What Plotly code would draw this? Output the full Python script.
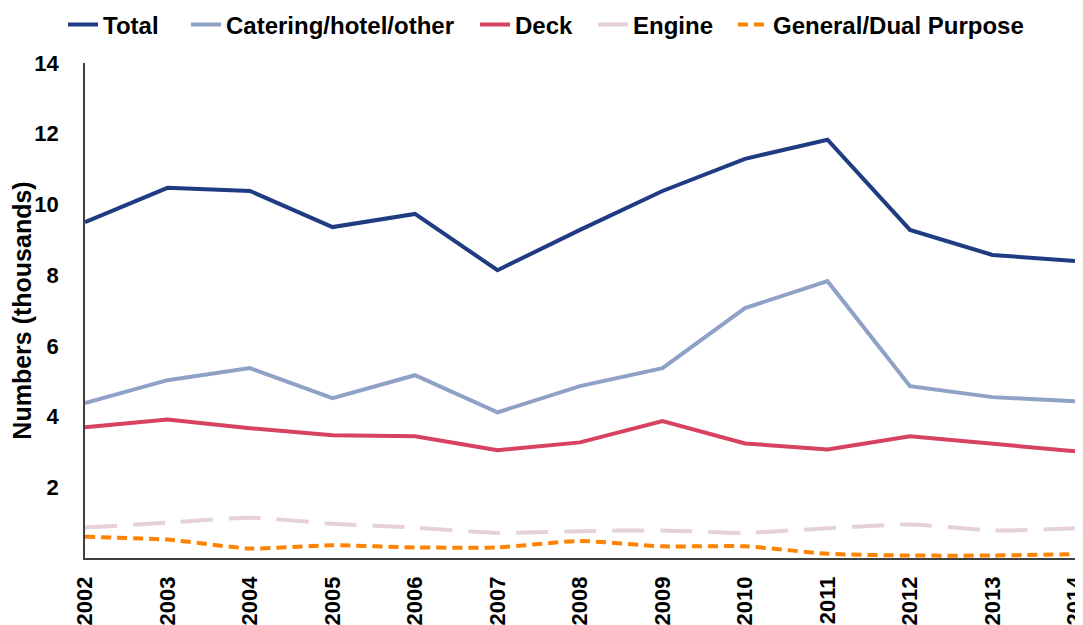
import plotly.graph_objects as go

years = list(range(2002, 2015))
total = [9.50, 10.47, 10.38, 9.36, 9.73, 8.14, 9.28, 10.38, 11.29, 11.83, 9.28, 8.57, 8.40]
catering = [4.38, 5.03, 5.37, 4.52, 5.17, 4.12, 4.86, 5.37, 7.07, 7.83, 4.86, 4.55, 4.43]
deck = [3.70, 3.92, 3.67, 3.47, 3.44, 3.05, 3.27, 3.87, 3.24, 3.07, 3.44, 3.22, 3.02]
engine = [0.86, 1.00, 1.14, 0.97, 0.86, 0.71, 0.76, 0.78, 0.71, 0.84, 0.95, 0.78, 0.84]
general = [0.60, 0.52, 0.27, 0.36, 0.30, 0.30, 0.48, 0.33, 0.33, 0.12, 0.07, 0.07, 0.11]
ytick_vals = [2, 4, 6, 8, 10, 12, 14]

FONT = "Liberation Sans, Arial, sans-serif"
# the page body adds an 8px margin, so the figure is 8px smaller than the window
W, H = 1075, 617

# (name, values, line style, shape, legend id, legend text left edge on screen)
series = [
    ("Total", total, dict(color="#1f3b82", width=4), "linear", "legend", 103),
    ("Catering/hotel/other", catering, dict(color="#8fa1c6", width=4), "linear", "legend2", 226),
    ("Deck", deck, dict(color="#d6425f", width=4), "linear", "legend3", 515),
    ("Engine", engine, dict(color="#e6d0dc", width=4, dash="32px,16px"), "spline", "legend4", 633),
    ("General/Dual Purpose", general, dict(color="#ff8200", width=4, dash="10px,6px"), "spline", "legend5", 773),
]

fig = go.Figure()
legends = {}
for name, vals, line, shape, lg, tx in series:
    fig.add_trace(go.Scatter(x=years, y=vals, name=name, mode="lines", legend=lg,
                             line=dict(shape=shape, smoothing=0.6, **line)))
    legends[lg] = dict(orientation="h", xref="container", yref="container",
                       x=(tx - 48) / W, y=1 - 17 / H, xanchor="left", yanchor="middle",
                       font=dict(family=FONT, size=24, weight="bold", color="black"),
                       itemwidth=30, bgcolor="rgba(0,0,0,0)")

fig.update_layout(
    width=W, height=H,
    margin=dict(l=77, r=8, t=55, b=67, autoexpand=False),
    plot_bgcolor="white", paper_bgcolor="white",
    font=dict(family=FONT, size=22, color="black", weight="bold"),
    showlegend=True,
    **legends,
)
fig.update_xaxes(range=[2002, 2014], tickvals=years, ticktext=[str(y) for y in years],
                 tickangle=-90, showgrid=False, zeroline=False,
                 showline=True, linecolor="#404040", linewidth=1.5,
                 ticks="", ticklabelstandoff=8, ticklabeloverflow="allow", automargin=False,
                 tickfont=dict(family=FONT, size=22, weight="bold"))
fig.update_yaxes(range=[0, 14], tickvals=ytick_vals, showgrid=False, zeroline=False,
                 showline=True, linecolor="#404040", linewidth=1.5,
                 ticks="", ticklabelstandoff=20, ticklabeloverflow="allow", automargin=False,
                 tickfont=dict(family=FONT, size=22, weight="bold"),
                 title=dict(text="Numbers (thousands)", standoff=0,
                            font=dict(family=FONT, size=25, weight="bold")))

fig.write_html("out.html")
